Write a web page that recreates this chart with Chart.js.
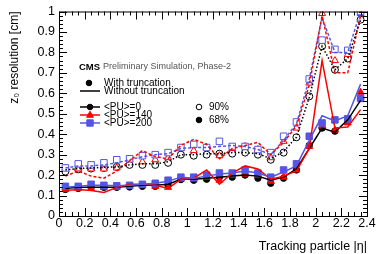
<!DOCTYPE html>
<html>
<head>
<meta charset="utf-8">
<script src="https://cdn.jsdelivr.net/npm/chart.js@4/dist/chart.umd.min.js"></script>
<style>
  html, body { margin: 0; padding: 0; background: #fff; }
  #wrap { width: 382px; height: 254px; }
</style>
</head>
<body>
<div id="wrap"><canvas id="chart" width="382" height="254"></canvas></div>
<script>
const etaBins = [0.05, 0.15, 0.25, 0.35, 0.45, 0.55, 0.65, 0.75, 0.85, 0.95, 1.05, 1.15,
  1.25, 1.35, 1.45, 1.55, 1.65, 1.75, 1.85, 1.95, 2.05, 2.15, 2.25, 2.35];

// 68% coverage
const pu0Trunc68 = [0.13, 0.135, 0.14, 0.14, 0.14, 0.142, 0.145, 0.145, 0.15, 0.178, 0.175, 0.18,
  0.19, 0.19, 0.2, 0.185, 0.16, 0.185, 0.225, 0.345, 0.43, 0.415, 0.475, 0.575];
const pu0NoTrunc68 = [0.135, 0.14, 0.14, 0.14, 0.14, 0.145, 0.15, 0.15, 0.155, 0.18, 0.18, 0.185,
  0.19, 0.195, 0.2, 0.195, 0.175, 0.19, 0.23, 0.33, 0.43, 0.41, 0.47, 0.565];
const pu140Trunc68 = [0.13, 0.135, 0.135, 0.14, 0.14, 0.145, 0.15, 0.145, 0.14, 0.18, 0.18, 0.19,
  0.175, 0.2, 0.205, 0.2, 0.17, 0.19, 0.225, 0.34, 0.44, 0.42, 0.455, 0.605];
const pu140NoTrunc68 = [0.125, 0.13, 0.125, 0.115, 0.14, 0.155, 0.155, 0.15, 0.135, 0.18, 0.185, 0.225,
  0.155, 0.21, 0.245, 0.23, 0.18, 0.195, 0.22, 0.33, 0.76, 0.43, 0.435, 0.52];
const pu200Trunc68 = [0.145, 0.145, 0.155, 0.15, 0.148, 0.15, 0.155, 0.16, 0.175, 0.19, 0.19, 0.2,
  0.21, 0.21, 0.225, 0.21, 0.19, 0.225, 0.255, 0.39, 0.455, 0.47, 0.475, 0.575];
const pu200NoTrunc68 = [0.14, 0.145, 0.15, 0.15, 0.148, 0.15, 0.155, 0.16, 0.17, 0.19, 0.185, 0.195,
  0.205, 0.21, 0.22, 0.21, 0.19, 0.215, 0.245, 0.37, 0.49, 0.465, 0.49, 0.645];

// 90% coverage
const pu0Trunc90 = [0.217, 0.228, 0.232, 0.235, 0.24, 0.25, 0.25, 0.25, 0.26, 0.3, 0.295, 0.3,
  0.305, 0.305, 0.31, 0.3, 0.275, 0.31, 0.385, 0.585, 0.83, 0.715, 0.77, 0.96];
const pu0NoTrunc90 = [0.225, 0.232, 0.235, 0.238, 0.24, 0.25, 0.255, 0.255, 0.265, 0.3, 0.3, 0.305,
  0.305, 0.31, 0.31, 0.305, 0.28, 0.315, 0.385, 0.58, 0.83, 0.715, 0.77, 0.96];
const pu140Trunc90 = [0.235, 0.23, 0.23, 0.23, 0.235, 0.275, 0.265, 0.275, 0.285, 0.33, 0.32, 0.335,
  0.295, 0.33, 0.34, 0.325, 0.285, 0.365, 0.43, 0.65, 0.99, 0.76, 0.79, 0.99];
const pu140NoTrunc90 = [0.195, 0.22, 0.195, 0.185, 0.22, 0.27, 0.32, 0.29, 0.28, 0.345, 0.375, 0.35,
  0.28, 0.33, 0.345, 0.36, 0.3, 0.36, 0.44, 0.64, 0.98, 0.7, 0.7, 0.98];
const pu200Trunc90 = [0.235, 0.255, 0.25, 0.26, 0.275, 0.28, 0.295, 0.3, 0.31, 0.335, 0.35, 0.335,
  0.365, 0.34, 0.34, 0.325, 0.31, 0.39, 0.46, 0.67, 0.86, 0.815, 0.81, 1.0];
const pu200NoTrunc90 = [0.235, 0.245, 0.245, 0.25, 0.26, 0.275, 0.29, 0.3, 0.305, 0.33, 0.335, 0.335,
  0.34, 0.345, 0.34, 0.325, 0.3, 0.37, 0.45, 0.67, 0.97, 0.8, 0.8, 1.0];

const xTicks = [0, 0.2, 0.4, 0.6, 0.8, 1, 1.2, 1.4, 1.6, 1.8, 2, 2.2, 2.4];
const xTickLabels = ['0', '0.2', '0.4', '0.6', '0.8', '1', '1.2', '1.4', '1.6', '1.8', '2', '2.2', '2.4'];
const yTicks = [0, 0.1, 0.2, 0.3, 0.4, 0.5, 0.6, 0.7, 0.8, 0.9, 1];
const yTickLabels = ['0', '0.1', '0.2', '0.3', '0.4', '0.5', '0.6', '0.7', '0.8', '0.9', '1'];

const FONT = '"Liberation Sans", Arial, Helvetica, sans-serif';
const BLACK = '#000000';
const RED = '#ff0000';
const BLUE = '#5555e3';

const pts = (vals) => vals.map((v, i) => ({ x: etaBins[i], y: v }));

const lineSet = (vals, color, dash) => ({
  data: pts(vals),
  borderColor: color,
  borderWidth: 1.5,
  borderDash: dash,
  pointRadius: 0,
  fill: false,
  tension: 0,
});

const markerSet = (vals, color, style, radius, filled) => ({
  data: pts(vals),
  showLine: false,
  pointStyle: style,
  pointRadius: radius,
  pointBorderWidth: 1,
  pointBorderColor: color,
  pointBackgroundColor: filled ? color : '#ffffff',
});

// ROOT-like frame with inner ticks on all sides
const framePlugin = {
  id: 'frame',
  afterDraw(chart) {
    const { ctx, chartArea: a, scales: { x, y } } = chart;
    ctx.save();
    ctx.strokeStyle = '#000';
    ctx.lineWidth = 1;
    ctx.strokeRect(a.left + 0.5, a.top + 0.5, a.right - a.left, a.bottom - a.top);
    ctx.beginPath();
    for (let i = 0; i <= 48; i++) {
      const px = Math.round(x.getPixelForValue(i * 0.05)) + 0.5;
      const len = i % 4 === 0 ? 8 : 4;
      ctx.moveTo(px, a.bottom); ctx.lineTo(px, a.bottom - len);
      ctx.moveTo(px, a.top); ctx.lineTo(px, a.top + len);
    }
    for (let i = 0; i <= 50; i++) {
      const py = Math.round(y.getPixelForValue(i * 0.02)) + 0.5;
      const len = i % 5 === 0 ? 8 : 4;
      ctx.moveTo(a.left, py); ctx.lineTo(a.left + len, py);
      ctx.moveTo(a.right, py); ctx.lineTo(a.right - len, py);
    }
    ctx.stroke();
    ctx.restore();
  },
};

function marker(ctx, style, cx, cy, r, color, filled) {
  ctx.beginPath();
  if (style === 'circle') {
    ctx.arc(cx, cy, r, 0, Math.PI * 2);
  } else if (style === 'triangle') {
    ctx.moveTo(cx, cy - r);
    ctx.lineTo(cx + r * 0.9, cy + r * 0.6);
    ctx.lineTo(cx - r * 0.9, cy + r * 0.6);
    ctx.closePath();
  } else {
    ctx.rect(cx - r, cy - r, 2 * r, 2 * r);
  }
  ctx.fillStyle = filled ? color : '#fff';
  ctx.strokeStyle = color;
  ctx.lineWidth = 1;
  ctx.fill();
  ctx.stroke();
}

const legendPlugin = {
  id: 'rootLegend',
  afterDraw(chart) {
    const ctx = chart.ctx;
    ctx.save();
    ctx.textBaseline = 'middle';
    ctx.textAlign = 'left';
    ctx.font = 'bold 9.5px ' + FONT;
    ctx.fillStyle = '#000';
    ctx.fillText('CMS', 79, 67);
    ctx.font = '9px ' + FONT;
    ctx.fillStyle = '#555';
    ctx.fillText('Preliminary Simulation, Phase-2', 103, 67);

    ctx.fillStyle = '#000';
    ctx.font = '10px ' + FONT;
    marker(ctx, 'circle', 89, 83, 2.8, BLACK, true);
    ctx.fillStyle = '#000';
    ctx.fillText('With truncation', 104, 83);
    ctx.strokeStyle = '#000';
    ctx.lineWidth = 1.5;
    ctx.beginPath(); ctx.moveTo(80, 91); ctx.lineTo(100, 91); ctx.stroke();
    ctx.fillText('Without truncation', 104, 91);

    const rows = [
      ['<PU>=0', BLACK, 'circle', 2.8, 107],
      ['<PU>=140', RED, 'triangle', 3.8, 115],
      ['<PU>=200', BLUE, 'rect', 3.2, 123],
    ];
    rows.forEach(([label, color, style, r, yy]) => {
      ctx.strokeStyle = color;
      ctx.lineWidth = 1.5;
      ctx.beginPath(); ctx.moveTo(80, yy); ctx.lineTo(100, yy); ctx.stroke();
      marker(ctx, style, 90, yy, r, color, true);
      ctx.fillStyle = '#000';
      ctx.fillText(label, 104, yy);
    });

    marker(ctx, 'circle', 199, 107, 2.8, BLACK, false);
    ctx.fillStyle = '#000';
    ctx.fillText('90%', 209, 107);
    marker(ctx, 'circle', 199, 120, 2.8, BLACK, true);
    ctx.fillStyle = '#000';
    ctx.fillText('68%', 209, 120);
    ctx.restore();
  },
};

new Chart(document.getElementById('chart'), {
  type: 'line',
  data: {
    datasets: [
      lineSet(pu0NoTrunc90, BLACK, [1.5, 2]),
      lineSet(pu140NoTrunc90, RED, [3, 2]),
      lineSet(pu200NoTrunc90, BLUE, [3, 2]),
      lineSet(pu200NoTrunc68, BLUE, []),
      lineSet(pu140NoTrunc68, RED, []),
      lineSet(pu0NoTrunc68, BLACK, []),
      markerSet(pu200Trunc90, BLUE, 'rect', 4.6, false),
      markerSet(pu140Trunc90, RED, 'triangle', 4, false),
      markerSet(pu0Trunc90, BLACK, 'circle', 3.5, false),
      markerSet(pu200Trunc68, BLUE, 'rect', 4.6, true),
      markerSet(pu140Trunc68, RED, 'triangle', 4, true),
      markerSet(pu0Trunc68, BLACK, 'circle', 3.2, true),
    ],
  },
  options: {
    responsive: false,
    animation: false,
    events: [],
    layout: { padding: { top: 10, right: 15, left: 0, bottom: 0 } },
    plugins: {
      legend: { display: false },
      tooltip: { enabled: false },
    },
    scales: {
      x: {
        type: 'linear',
        min: 0,
        max: 2.4,
        afterBuildTicks: (axis) => { axis.ticks = xTicks.map((v) => ({ value: v })); },
        afterFit: (axis) => { axis.height = 38; },
        grid: { display: false, drawTicks: false },
        border: { display: false },
        ticks: {
          autoSkip: false,
          maxRotation: 0,
          padding: 0,
          color: '#000',
          font: { family: FONT, size: 12.5 },
          callback: (v, i) => xTickLabels[i],
        },
        title: {
          display: true,
          text: 'Tracking particle |η|',
          align: 'end',
          color: '#000',
          font: { family: FONT, size: 12.5 },
          padding: { top: 0, bottom: 0 },
        },
      },
      y: {
        min: 0,
        max: 1,
        afterBuildTicks: (axis) => { axis.ticks = yTicks.map((v) => ({ value: v })); },
        afterFit: (axis) => { axis.width = 59; },
        grid: { display: false, drawTicks: false },
        border: { display: false },
        ticks: {
          autoSkip: false,
          padding: 4,
          color: '#000',
          font: { family: FONT, size: 12.5 },
          callback: (v, i) => yTickLabels[i],
        },
        title: {
          display: true,
          text: 'z₀ resolution [cm]',
          align: 'end',
          color: '#000',
          font: { family: FONT, size: 12 },
          padding: { top: 7, bottom: 0 },
        },
      },
    },
  },
  plugins: [framePlugin, legendPlugin],
});
</script>
</body>
</html>
